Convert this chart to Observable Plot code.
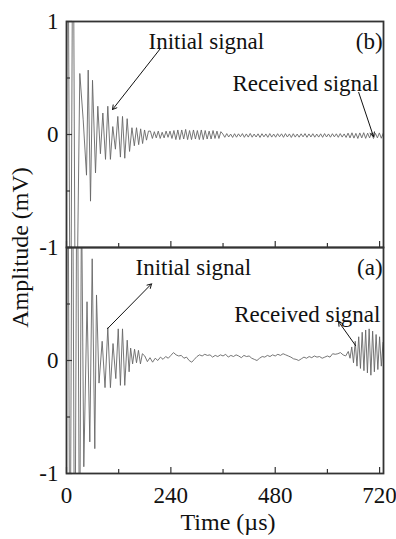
<!DOCTYPE html>
<html><head><meta charset="utf-8">
<script src="https://cdn.jsdelivr.net/npm/d3@7"></script>
<script src="https://cdn.jsdelivr.net/npm/@observablehq/plot@0.6"></script>
<style>
body{margin:0;background:#fff}
#chart{width:396px;height:539px}
#chart svg, #chart svg text {font-family: "Liberation Serif", "Times New Roman", serif !important;}
</style>
</head><body><div id="chart"></div>
<script>
// Panel order, top to bottom
const panels = ["b", "a"];

// ---- Panel (b): initial burst (time in µs, amplitude in mV)
const bEarlyTime = [0, 3, 9, 15, 21, 30.6, 38.4, 46, 49.9, 55.2, 59.8, 66.7, 72, 78, 83.6, 89.7, 95, 101, 106.4, 112.5, 118, 124, 128.8, 134, 139.5, 145, 150.5, 156, 161, 166, 170.5, 175, 179.5, 184, 188.5];
const bEarlyAmp  = [0, 2.5, -2.5, 2.5, -2.5, 0.54, 0.13, -0.36, 0.57, -0.59, 0.48, -0.34, 0.25, -0.17, 0.19, -0.22, 0.25, -0.22, 0.07, -0.13, 0.16, -0.2, 0.16, -0.21, 0.14, -0.15, 0.06, -0.1, 0.06, -0.09, 0.05, -0.08, 0.04, -0.05, 0.03];
// Panel (b): residual ringing, sampled every 4.5 µs from 193 µs
const bTailStart = 193, bTailStep = 4.5;
const bTailAmp = [
  0.03, -0.035, 0.025, -0.03, 0.03, -0.035, 0.02, -0.03, 0.03, -0.025, 0.03, -0.035, 0.035,
  -0.045, 0.04, -0.045, 0.04, -0.04, 0.045, -0.045, 0.035, -0.045, 0.04, -0.04, 0.035,
  -0.045, 0.04, -0.045, 0.035, -0.04, 0.03, -0.04, 0.035, -0.035, 0.03, -0.035, 0.025,
  0.005, -0.025, 0.008, -0.022, 0.004, -0.026, 0.007, -0.024, 0.006, -0.02,
  0.008, -0.025, 0.005, -0.023, 0.009, -0.024, 0.004, -0.022, 0.006, -0.026,
  0.007, -0.021, 0.005, -0.025, 0.008, -0.023, 0.004, -0.024, 0.007, -0.02,
  0.006, -0.025, 0.008, -0.022, 0.005, -0.026, 0.007, -0.023, 0.004, -0.024,
  0.006, -0.021, 0.008, -0.025, 0.005, -0.022, 0.007, -0.024, 0.004, -0.023,
  0.006, -0.025, 0.008, -0.022, 0.005, -0.024, 0.007, -0.021, 0.006, -0.025,
  0.008, -0.023, 0.005, -0.026,
  0.012, -0.03, 0.015, -0.032, 0.01, -0.035, 0.014, -0.03, 0.016, -0.034,
  0.012, -0.03, 0.015, -0.035, 0.01, -0.03, 0.014, -0.033, 0.012, -0.028
];

// ---- Panel (a): initial burst
const aEarlyTime = [0, 3, 8, 13.5, 19, 24.5, 30, 34.5, 39.8, 47.2, 53.6, 59.1, 65.1, 69, 74.8, 82, 88.6, 95, 101, 107, 113.4, 119, 124, 128.8, 134, 139.6, 144, 147.5, 152, 156.5, 161, 165.5, 170, 174.5];
const aEarlyAmp  = [0, 2.5, -2.5, 2.5, -2.5, 2.5, -2, 1.5, -0.94, 0.52, -0.72, 0.9, -0.78, 0.58, -0.2, 0.17, -0.24, 0.29, -0.24, 0.15, -0.16, 0.28, -0.22, 0.28, -0.22, 0.18, -0.1, 0.11, -0.03, 0.1, -0.02, 0.09, -0.03, 0.06];
// Panel (a): noise floor, sampled every 6 µs from 180 µs
const aTailStart = 180, aTailStep = 6;
const aTailAmp = [
  0.04, -0.01, 0.025, -0.015, 0.02, 0.0, 0.03, 0.01, 0.035, 0.02,
  0.045, 0.07, 0.05, 0.04, 0.045, 0.02, 0.03, 0.0, -0.015, 0.01,
  0.035, 0.05, 0.04, 0.055, 0.045, 0.05, 0.03, 0.045, 0.035, 0.05,
  0.04, 0.055, 0.03, 0.045, 0.035, 0.05, 0.04, 0.025, 0.045, 0.035,
  0.04, 0.02, 0.01, 0.0, 0.02, 0.035, 0.03, 0.045, 0.035, 0.05,
  0.04, 0.055, 0.045, 0.06, 0.05, 0.04, 0.03, 0.015, 0.01, 0.0,
  0.015, 0.03, 0.02, 0.035, 0.025, 0.04, 0.03, 0.035, 0.02, 0.03,
  0.04, 0.03, 0.06, 0.055, 0.06, 0.07, 0.05, 0.04
];
// Panel (a): received burst, sampled every 4 µs from 648 µs
const aBurstStart = 648, aBurstStep = 4;
const aBurstAmp = [0.08, 0.02, 0.12, -0.02, 0.17, -0.05, 0.21, -0.07, 0.25, -0.09, 0.27, -0.11, 0.28, -0.13, 0.26, -0.1, 0.23, -0.08, 0.21, -0.05, 0.16];

// ---- Axes
const xMajorTicks = [0, 240, 480, 720];
const xMinorTicks = [120, 360, 600];
const yMajorTicks = [-1, 0, 1];
const yMinorTicks = [-0.5, 0.5];
const yLabelPanel = ["b", "b", "b", "a", "a"];
const yLabelValue = [1, 0, -1, 0, -1];
const yLabelText  = ["1", "0", "-1", "0", "-1"];
const xTitle = "Time (µs)";
const yTitle = "Amplitude (mV)";

// ---- Annotations
const notePanel  = ["b", "b", "b", "a", "a", "a"];
const noteText   = ["Initial signal", "(b)", "Received signal", "Initial signal", "(a)", "Received signal"];
const noteTime   = [188.6, 727, 718, 158.7, 727, 722];
const noteAmp    = [0.823, 0.823, 0.451, 0.819, 0.819, 0.405];
const noteAnchor = ["start", "end", "end", "start", "end", "end"];

const arrowPanel = ["b", "b", "a", "a"];
const arrowT1 = [216, 672, 94.3, 664.8];
const arrowV1 = [0.761, 0.372, 0.282, 0.132];
const arrowT2 = [105.8, 706, 195.5, 625.7];
const arrowV2 = [0.221, -0.018, 0.678, 0.344];

// ---- Build tables
const signal = [];
bEarlyTime.forEach((t, i) => signal.push({panel: "b", t, v: bEarlyAmp[i]}));
bTailAmp.forEach((v, i) => signal.push({panel: "b", t: bTailStart + i * bTailStep, v}));
aEarlyTime.forEach((t, i) => signal.push({panel: "a", t, v: aEarlyAmp[i]}));
aTailAmp.forEach((v, i) => signal.push({panel: "a", t: aTailStart + i * aTailStep, v}));
aBurstAmp.forEach((v, i) => signal.push({panel: "a", t: aBurstStart + i * aBurstStep, v}));

const yLabels = yLabelValue.map((value, i) => ({panel: yLabelPanel[i], value, label: yLabelText[i]}));
const notes = noteText.map((label, i) => ({panel: notePanel[i], t: noteTime[i], v: noteAmp[i], label, anchor: noteAnchor[i]}));
const arrows = arrowPanel.map((panel, i) => ({panel, t1: arrowT1[i], v1: arrowV1[i], t2: arrowT2[i], v2: arrowV2[i]}));

const chart = Plot.plot({
  width: 396, height: 539,
  marginLeft: 66, marginRight: 13, marginTop: 20, marginBottom: 66,
  style: {fontFamily: "'Liberation Serif','Times New Roman',serif", fontSize: "23px", color: "#111", background: "#fff"},
  x: {domain: [0, 729]},
  y: {domain: [-1, 1]},
  fy: {domain: panels, axis: null, padding: 0},
  marks: [
    Plot.line(signal, {x: "t", y: "v", fy: "panel", z: "panel", stroke: "#666", strokeWidth: 0.9, clip: true}),
    Plot.frame({stroke: "#333", strokeWidth: 1.8}),
    Plot.axisX(xMajorTicks, {tickSize: -6, fill: "none", label: null, facetAnchor: null, stroke: "#333", strokeWidth: 1.2}),
    Plot.axisX(xMinorTicks, {tickSize: -4, fill: "none", label: null, facetAnchor: null, stroke: "#333", strokeWidth: 1.2}),
    Plot.axisX(xMajorTicks, {tickSize: 0, tickPadding: 13, label: null, tickFormat: d => String(d), fontSize: 23}),
    Plot.axisY(yMajorTicks, {tickSize: -6, fill: "none", label: null, stroke: "#333", strokeWidth: 1.2}),
    Plot.axisY(yMinorTicks, {tickSize: -4, fill: "none", label: null, stroke: "#333", strokeWidth: 1.2}),
    Plot.text(yLabels, {fy: "panel", y: "value", text: "label", frameAnchor: "left", textAnchor: "end", dx: -8, fontSize: 23}),
    Plot.text([{panel: "b", v: -1, label: yTitle}], {fy: "panel", y: "v", text: "label", frameAnchor: "left", textAnchor: "middle", dx: -46, rotate: -90, fontSize: 24}),
    Plot.text([{panel: "a", label: xTitle}], {fy: "panel", text: "label", frameAnchor: "bottom", textAnchor: "middle", dx: 3, dy: 56, fontSize: 24}),
    Plot.text(notes.filter(d => d.anchor === "start"), {fy: "panel", x: "t", y: "v", text: "label", textAnchor: "start", fontSize: 23}),
    Plot.text(notes.filter(d => d.anchor === "end"), {fy: "panel", x: "t", y: "v", text: "label", textAnchor: "end", fontSize: 23}),
    Plot.arrow(arrows, {fy: "panel", x1: "t1", y1: "v1", x2: "t2", y2: "v2", stroke: "#111", strokeWidth: 1, headLength: 7})
  ]
});
document.getElementById("chart").appendChild(chart);
</script>
</body></html>
